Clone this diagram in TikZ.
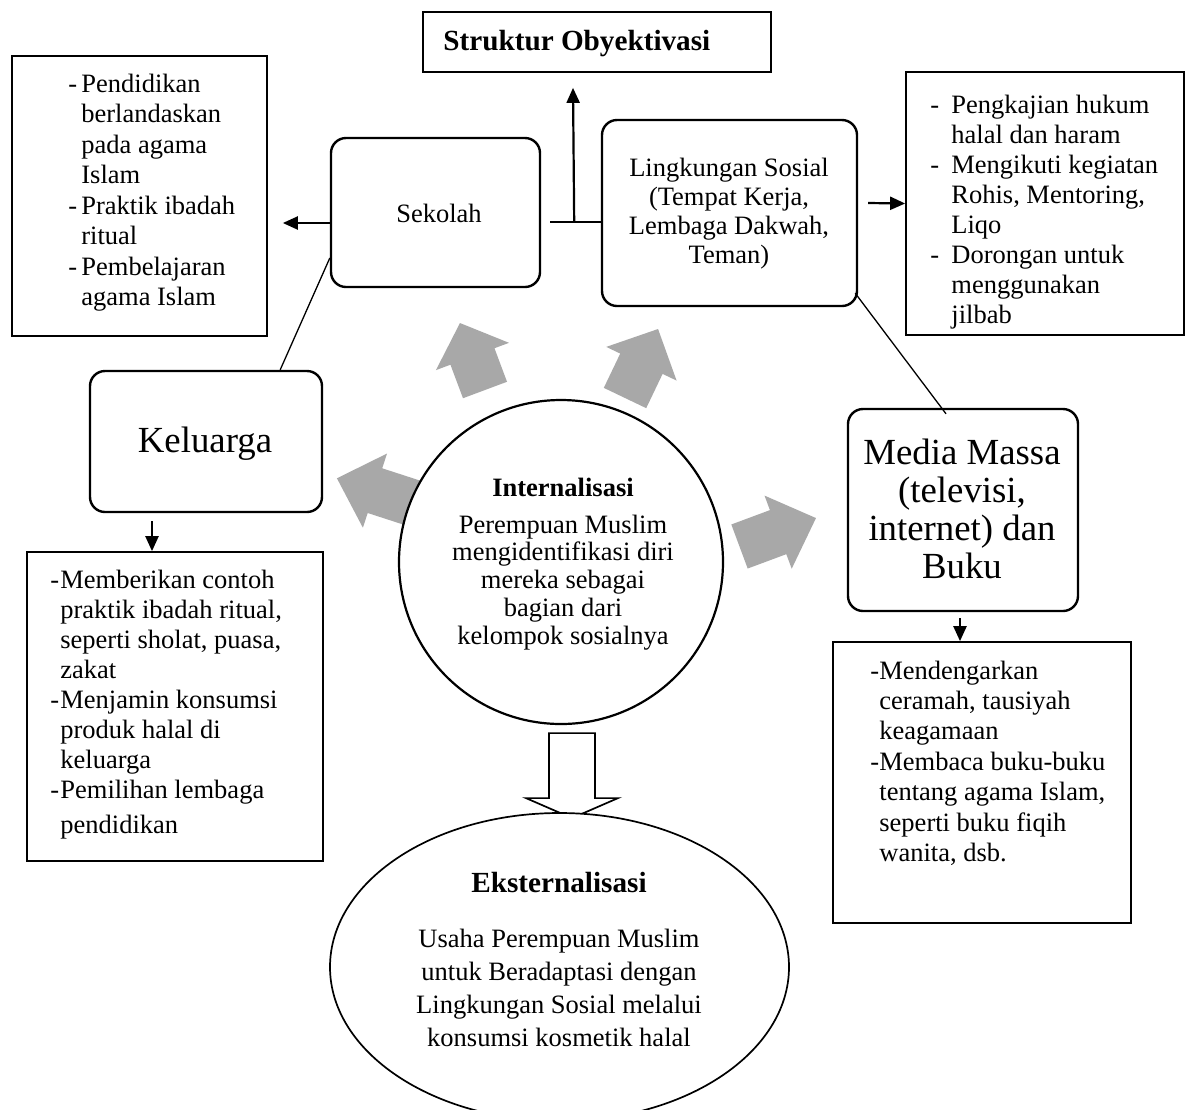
\documentclass[tikz,border=0pt]{standalone}
\usepackage{fontspec}
\setmainfont{Liberation Serif}
\usetikzlibrary{arrows.meta,calc,shapes.geometric}
\definecolor{garrow}{RGB}{168,168,168}
\newcommand\bodyfont[1]{\fontsize{13.25pt}{#1}\selectfont}
\newcommand\bigfont{\fontsize{18.4pt}{19pt}\selectfont}
\newcommand\dsh[1]{\makebox[#1][l]{-}}
\newcommand\garr[5]{%
  \begin{scope}[shift={(#1,#2)},rotate=#3]
    \fill[garrow] (0,-23.5) -- ({#4-#5},-23.5) -- ({#4-#5},-39) -- (#4,0) -- ({#4-#5},39) -- ({#4-#5},23.5) -- (0,23.5) -- cycle;
  \end{scope}}
\begin{document}
\begin{tikzpicture}[x=0.5pt,y=-0.5pt,
  sqbox/.style={draw,line width=0.85pt,inner sep=0pt},
  rbox/.style={draw,line width=1.2pt,rounded corners=7.5pt,inner sep=0pt},
  txt/.style={inner sep=0pt},
  conn/.style={line width=0.65pt},
  arr/.style={line width=1.1pt,-{Triangle[length=7.5pt,width=6.5pt]}}]

\useasboundingbox (0,0) rectangle (1189,1109);
\fill[white] (0,0) rectangle (1189,1109);

% gray block arrows
\garr{485}{390}{110.5}{71.5}{35.7}
\garr{625}{398}{64.4}{76.5}{38.5}
\garr{413}{503}{162}{80}{40}
\garr{739.5}{546.5}{20.4}{81.6}{40.4}

% boxes
\node[sqbox,minimum width=127.5pt,minimum height=140pt] (tlbox) at (139.5,196) {};
\node[rbox,minimum width=104.5pt,minimum height=74.5pt] (sek) at (435.5,212.5) {};
\node[sqbox,minimum width=174pt,minimum height=30pt] (struk) at (597,42) {};
\node[rbox,minimum width=127.5pt,minimum height=93pt] (ling) at (729.5,213) {};
\node[sqbox,minimum width=139pt,minimum height=131.5pt] (trbox) at (1045,203.5) {};
\node[rbox,minimum width=116pt,minimum height=70.5pt] (kel) at (206,441.5) {};
\node[sqbox,minimum width=148pt,minimum height=154.5pt] (kbox) at (175,706.5) {};
\node[rbox,minimum width=115pt,minimum height=101pt] (media) at (963,510) {};
\node[sqbox,minimum width=149pt,minimum height=140.5pt] (mbox) at (982,782.5) {};
\node[draw,circle,minimum size=162pt,inner sep=0pt,line width=1.1pt,fill=white] (intern) at (561,562) {};

% hollow arrow
\coordinate (ha) at ($(intern.south)+(11,8)$);
\draw[line width=0.85pt,fill=white] ($(ha)+(-23,0)$) -- ($(ha)+(23,0)$) -- ($(ha)+(23,65)$) -- ($(ha)+(46,65)$) -- ($(ha)+(0,85)$) -- ($(ha)+(-46,65)$) -- ($(ha)+(-23,65)$) -- cycle;
\node[draw,ellipse,minimum width=229.5pt,minimum height=154pt,inner sep=0pt,fill=white,line width=0.85pt] (ekst) at (559.5,967) {};

% connectors
\draw[arr] ($(sek.west)+(0,10.5)$) -- ($(tlbox.east)+(15,27)$);
\draw[line width=1.1pt] ($(sek.east)+(9,9.5)$) -- ($(ling.west)+(0,9)$);
\coordinate (jn) at ($(sek.east)+(33,9.5)$);
\draw[arr] (jn) -- ($(struk.south)+(-24,15)$);
\draw[arr] ($(ling.east)+(10,-10)$) -- (trbox.west);
\draw[conn] ($(sek.west)+(0,45.5)$) -- ($(kel.north east)+(-43,0)$);
\draw[arr] ($(kel.south)+(-54,8)$) -- ($(kbox.north)+(-23,0)$);
\draw[conn] ($(ling.south east)+(-3,-14)$) -- ($(media.north)+(-17,6)$);
\draw[arr] ($(media.south)+(-3,6)$) -- ($(mbox.north)+(-22,0)$);

% texts
\node[txt,anchor=base west,font={\bodyfont{15.25pt}}] (tltext) at (68,92) {\begin{tabular}[t]{@{}l@{}l@{}}\dsh{6.5pt}&Pendidikan\\ &berlandaskan\\ &pada agama\\ &Islam\\ \dsh{6.5pt}&Praktik ibadah\\ &ritual\\ \dsh{6.5pt}&Pembelajaran\\ &agama Islam\end{tabular}};

\node[txt,anchor=base,font={\bodyfont{15pt}}] (sektext) at (439,222) {Sekolah};

\node[txt,anchor=base west,font={\fontsize{14.6pt}{17pt}\selectfont\bfseries}] (struktext) at (443,50) {Struktur Obyektivasi};

\node[txt,anchor=base,font={\bodyfont{14.5pt}}] (lingtext) at (729,176) {\begin{tabular}[t]{@{}c@{}}Lingkungan Sosial\\(Tempat Kerja,\\Lembaga Dakwah,\\Teman)\end{tabular}};

\node[txt,anchor=base west,font={\bodyfont{15pt}}] (trtext) at (930,113) {\begin{tabular}[t]{@{}l@{}l@{}}\dsh{10.5pt}&Pengkajian hukum\\ &halal dan haram\\ \dsh{10.5pt}&Mengikuti kegiatan\\ &Rohis, Mentoring,\\ &Liqo\\ \dsh{10.5pt}&Dorongan untuk\\ &menggunakan\\ &jilbab\end{tabular}};

\node[txt,anchor=base,font=\bigfont] (keltext) at (205,452) {Keluarga};

\node[txt,anchor=base west,font={\bodyfont{15pt}}] (ktext) at (50,588) {\begin{tabular}[t]{@{}l@{}l@{}}\dsh{5pt}&Memberikan contoh\\ &praktik ibadah ritual,\\ &seperti sholat, puasa,\\ &zakat\\ \dsh{5pt}&Menjamin konsumsi\\ &produk halal di\\ &keluarga\\ \dsh{5pt}&Pemilihan lembaga\\[2.5pt] &pendidikan\end{tabular}};

\node[txt,anchor=base,font=\bigfont] (medtext) at (962,464) {\begin{tabular}[t]{@{}c@{}}Media Massa\\(televisi,\\internet) dan\\Buku\end{tabular}};

\node[txt,anchor=base west,font={\bodyfont{15.2pt}}] (mtext) at (870,679) {\begin{tabular}[t]{@{}l@{}l@{}}\dsh{4.5pt}&Mendengarkan\\ &ceramah, tausiyah\\ &keagamaan\\ \dsh{4.5pt}&Membaca buku-buku\\ &tentang agama Islam,\\ &seperti buku fiqih\\ &wanita, dsb.\end{tabular}};

\node[txt,anchor=base,font={\bodyfont{13.9pt}}] (intext) at (563,496) {\begin{tabular}[t]{@{}c@{}}\textbf{Internalisasi}\\[4.6pt]Perempuan Muslim\\mengidentifikasi diri\\mereka sebagai\\bagian dari\\kelompok sosialnya\end{tabular}};

\node[txt,anchor=base,font={\bodyfont{16.6pt}}] (ektext) at (559,892) {\begin{tabular}[t]{@{}c@{}}{\fontsize{14.6pt}{16.6pt}\selectfont\bfseries Eksternalisasi}\\[10.9pt]Usaha Perempuan Muslim\\untuk Beradaptasi dengan\\Lingkungan Sosial melalui\\konsumsi kosmetik halal\end{tabular}};
\end{tikzpicture}
\end{document}
